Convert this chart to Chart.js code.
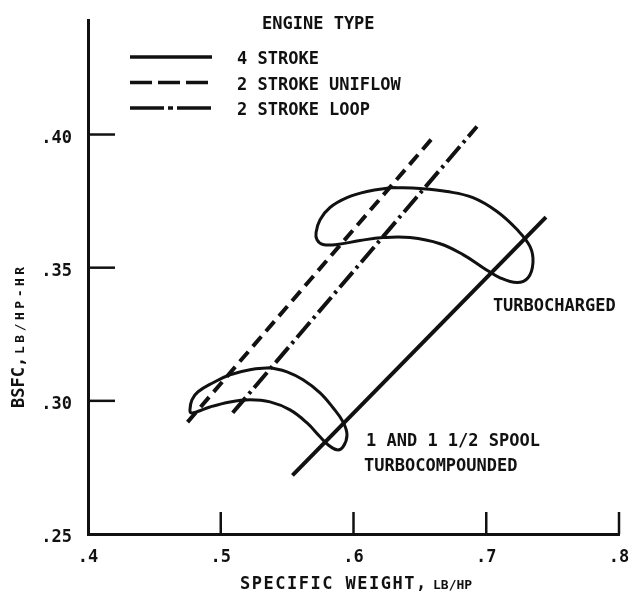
<!DOCTYPE html>
<html>
<head>
<meta charset="utf-8">
<script src="https://cdn.jsdelivr.net/npm/chart.js@4/dist/chart.umd.min.js"></script>
<style>
  body { margin: 0; background: #fff; }
  #wrap { width: 634px; height: 596px; position: relative; }
</style>
</head>
<body>
<div id="wrap"><canvas id="bsfcChart"></canvas></div>
<script>
// ── Axes ──────────────────────────────────────────────────────────────────
const xTicks  = [0.4, 0.5, 0.6, 0.7, 0.8];
const xLabels = ['.4', '.5', '.6', '.7', '.8'];
const yTicks  = [0.25, 0.30, 0.35, 0.40];
const yLabels = ['.25', '.30', '.35', '.40'];
const xMin = 0.4, xMax = 0.8, yMin = 0.25, yMax = 0.443;

// ── Engine type lines ─────────────────────────────────────────────────────
const fourStrokeX = [0.554, 0.745];
const fourStrokeY = [0.272, 0.369];
const uniflowX    = [0.475, 0.660];
const uniflowY    = [0.292, 0.399];
const loopX       = [0.509, 0.693];
const loopY       = [0.2955, 0.403];

// ── Regions ───────────────────────────────────────────────────────────────
const turboX = [0.6298, 0.6501, 0.6704, 0.6900, 0.7081, 0.7232, 0.7330, 0.7352, 0.7315, 0.7232, 0.7104, 0.6976, 0.6825,
                0.6652, 0.6426, 0.6222, 0.6049, 0.5876, 0.5770, 0.5725, 0.5718, 0.5748, 0.5823, 0.5951, 0.6102, 0.6298];
const turboY = [0.3801, 0.3797, 0.3786, 0.3763, 0.3711, 0.3643, 0.3579, 0.3519, 0.3462, 0.3444, 0.3462, 0.3500, 0.3549,
                0.3590, 0.3613, 0.3613, 0.3602, 0.3587, 0.3587, 0.3605, 0.3632, 0.3680, 0.3726, 0.3763, 0.3786, 0.3801];
const compX  = [0.5371, 0.5499, 0.5620, 0.5748, 0.5846, 0.5921, 0.5951, 0.5921, 0.5876, 0.5808, 0.5748, 0.5650, 0.5522,
                0.5371, 0.5220, 0.5070, 0.4919, 0.4821, 0.4776, 0.4768, 0.4783, 0.4829, 0.4942, 0.5070, 0.5220, 0.5371];
const compY  = [0.3124, 0.3109, 0.3079, 0.3030, 0.2974, 0.2921, 0.2872, 0.2827, 0.2816, 0.2835, 0.2865, 0.2917, 0.2966,
                0.2996, 0.3004, 0.2996, 0.2977, 0.2959, 0.2955, 0.2966, 0.3004, 0.3034, 0.3068, 0.3098, 0.3117, 0.3124];

// ── Text ──────────────────────────────────────────────────────────────────
const legendTitle  = 'ENGINE TYPE';
const legendLabels = ['4 STROKE', '2 STROKE UNIFLOW', '2 STROKE LOOP'];
const regionNotes  = [
    { text: 'TURBOCHARGED',      x: 0.705, y: 0.3353 },
    { text: '1 AND 1 1/2 SPOOL', x: 0.6094, y: 0.2846 },
    { text: 'TURBOCOMPOUNDED',   x: 0.6079, y: 0.2752 }
];

const INK = '#111';
const FONT = '"DejaVu Sans Mono", "Liberation Mono", monospace';
const zip = (xs, ys) => xs.map((x, i) => ({ x: x, y: ys[i] }));

Chart.defaults.font.family = FONT;
Chart.defaults.font.size = 17;
Chart.defaults.font.weight = 'bold';
Chart.defaults.color = INK;

const lineStyles = [
    { borderDash: [],            legendDash: [] },
    { borderDash: [13, 7],       legendDash: [22, 6] },
    { borderDash: [20, 5, 3, 5], legendDash: [34, 4, 5, 4] }
];

// ── Plugin: inward ticks, legend, notes, axis titles ──────────────────────
const decorations = {
    id: 'decorations',
    afterDraw(chart) {
        const ctx = chart.ctx;
        const xs = chart.scales.x, ys = chart.scales.y;
        const area = chart.chartArea;
        ctx.save();
        ctx.strokeStyle = INK;
        ctx.fillStyle = INK;
        ctx.lineWidth = 2.5;

        // inward tick marks
        yTicks.forEach(v => {
            if (v === yMin) return;
            const py = ys.getPixelForValue(v);
            ctx.beginPath(); ctx.moveTo(area.left, py); ctx.lineTo(area.left + 27, py); ctx.stroke();
        });
        xTicks.forEach(v => {
            if (v === xMin) return;
            const px = xs.getPixelForValue(v);
            ctx.beginPath(); ctx.moveTo(px, area.bottom); ctx.lineTo(px, area.bottom - 22); ctx.stroke();
        });

        // legend
        ctx.font = 'bold 17px ' + FONT;
        ctx.textBaseline = 'middle';
        ctx.textAlign = 'left';
        ctx.fillText(legendTitle, 262, 25);
        legendLabels.forEach((lab, i) => {
            const y = 57 + i * 25.5;
            ctx.save();
            ctx.lineWidth = 3.5;
            ctx.setLineDash(lineStyles[i].legendDash);
            ctx.beginPath(); ctx.moveTo(130, y); ctx.lineTo(212, y); ctx.stroke();
            ctx.restore();
            ctx.fillText(lab, 237, y + 3);
        });

        // region notes
        regionNotes.forEach(n => {
            ctx.fillText(n.text, xs.getPixelForValue(n.x), ys.getPixelForValue(n.y));
        });

        // x axis title
        ctx.textBaseline = 'alphabetic';
        ctx.font = 'bold 17px ' + FONT;
        ctx.letterSpacing = '1.5px';
        ctx.fillText('SPECIFIC WEIGHT,', 240, 589);
        ctx.font = 'bold 13px ' + FONT;
        ctx.letterSpacing = '0px';
        ctx.fillText('LB/HP', 433, 589);

        // y axis title (rotated)
        ctx.save();
        ctx.translate(24, 408);
        ctx.rotate(-Math.PI / 2);
        ctx.font = 'bold 17px ' + FONT;
        ctx.fillText('BSFC,', 0, 0);
        ctx.font = 'bold 13px ' + FONT;
        ctx.letterSpacing = '3.5px';
        ctx.fillText('LB/HP-HR', 54, 0);
        ctx.restore();

        ctx.restore();
    }
};

const lineDs = (xs, ys, style, width) => ({
    data: zip(xs, ys),
    showLine: true,
    borderColor: INK,
    borderWidth: width,
    borderDash: style ? style.borderDash : [],
    pointRadius: 0,
    tension: 0,
    fill: false
});

const blobDs = (xs, ys) => ({
    data: zip(xs, ys),
    showLine: true,
    borderColor: INK,
    borderWidth: 3,
    pointRadius: 0,
    tension: 0.4,
    fill: false
});

new Chart(document.getElementById('bsfcChart').getContext('2d'), {
    type: 'scatter',
    data: {
        datasets: [
            lineDs(fourStrokeX, fourStrokeY, lineStyles[0], 4),
            lineDs(uniflowX, uniflowY, lineStyles[1], 4),
            lineDs(loopX, loopY, lineStyles[2], 4),
            blobDs(turboX, turboY),
            blobDs(compX, compY)
        ]
    },
    options: {
        responsive: true,
        maintainAspectRatio: false,
        animation: false,
        layout: { padding: { left: 0, top: 20, right: 15, bottom: 0 } },
        plugins: { legend: { display: false }, tooltip: { enabled: false } },
        scales: {
            x: {
                type: 'linear',
                min: xMin, max: xMax,
                afterBuildTicks: s => { s.ticks = xTicks.map(v => ({ value: v })); },
                afterFit: s => { s.height = 62; s.paddingLeft = 0; s.paddingRight = 0; },
                ticks: { padding: 13, maxRotation: 0, callback: v => xLabels[xTicks.indexOf(v)] },
                grid: { display: false, drawTicks: false },
                border: { display: true, color: INK, width: 3 }
            },
            y: {
                type: 'linear',
                min: yMin, max: yMax,
                afterBuildTicks: s => { s.ticks = yTicks.map(v => ({ value: v })); },
                afterFit: s => { s.width = 88; s.paddingTop = 0; s.paddingBottom = 0; },
                ticks: { padding: 16, labelOffset: 4, callback: v => yLabels[yTicks.indexOf(v)] },
                grid: { display: false, drawTicks: false },
                border: { display: true, color: INK, width: 3 }
            }
        }
    },
    plugins: [decorations]
});
</script>
</body>
</html>
